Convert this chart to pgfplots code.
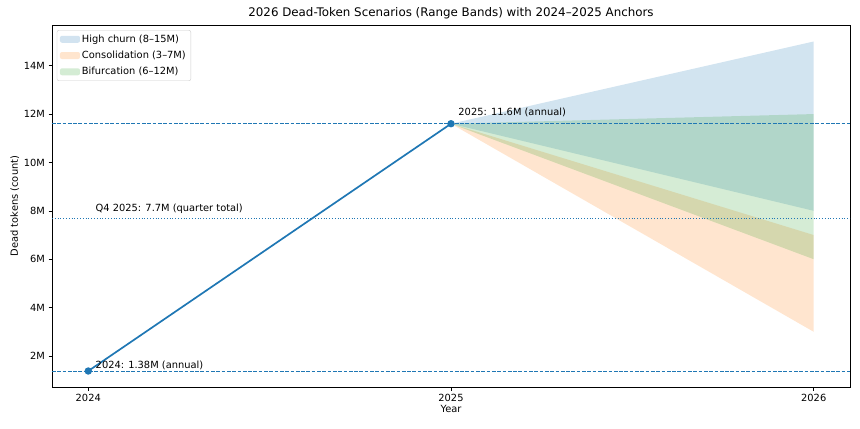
\documentclass[border=0pt]{standalone}
\usepackage{fontspec}
\setmainfont{DejaVu Sans}
\usepackage{pgfplots}
\pgfplotsset{compat=1.18}
\definecolor{tabblue}{HTML}{1F77B4}
\definecolor{taborange}{HTML}{FF7F0E}
\definecolor{tabgreen}{HTML}{2CA02C}
\begin{document}
\begin{tikzpicture}
\begin{axis}[
  scale only axis,
  width=798bp, height=362bp,
  xmin=2023.9, xmax=2026.1,
  ymin=0.719, ymax=15.681,
  xtick={2024,2025,2026},
  xticklabels={2024,2025,2026},
  ytick={2,4,6,8,10,12,14},
  yticklabels={2M,4M,6M,8M,10M,12M,14M},
  tick align=outside, tick pos=left,
  major tick length=3.5bp,
  tick style={black, line width=0.6bp},
  axis line style={black, line width=0.6bp},
  ticklabel style={font=\fontsize{9.9}{11}\selectfont},
  /pgf/number format/assume math mode=true,
  xlabel={Year}, ylabel={Dead tokens (count)},
  label style={font=\fontsize{9.9}{11}\selectfont},
  xlabel style={yshift=3bp},
  ylabel style={yshift=-2bp},
  title={2026 Dead-Token Scenarios (Range Bands) with 2024–2025 Anchors},
  title style={font=\fontsize{11.9}{13}\selectfont, yshift=-3bp},
  legend cell align=left,
  legend style={font=\fontsize{9.9}{11}\selectfont, draw=black!20, rounded corners=2bp, inner xsep=3bp, inner ysep=2.5bp, row sep=3.3bp, at={(0.006,0.986)}, anchor=north west},
  legend image code/.code={\fill[#1] (0bp,-3.5bp) rectangle (20bp,3.5bp);},
]
\addplot[fill=tabblue, fill opacity=0.2, draw=none] coordinates {(2025,11.6) (2026,15) (2026,8) (2025,11.6)} -- cycle;
\addlegendentry{High churn (8–15M)}
\addplot[fill=taborange, fill opacity=0.2, draw=none] coordinates {(2025,11.6) (2026,7) (2026,3) (2025,11.6)} -- cycle;
\addlegendentry{Consolidation (3–7M)}
\addplot[fill=tabgreen, fill opacity=0.2, draw=none] coordinates {(2025,11.6) (2026,12) (2026,6) (2025,11.6)} -- cycle;
\addlegendentry{Bifurcation (6–12M)}
\addplot[color=tabblue, line width=1.7bp, mark=*, mark size=2.8bp, mark options={solid, fill=tabblue, draw=tabblue}, forget plot] coordinates {(2024,1.38) (2025,11.6)};
\addplot[color=tabblue, line width=1bp, dash pattern=on 3.7bp off 1.6bp, forget plot] coordinates {(2023.9,11.6) (2026.1,11.6)};
\addplot[color=tabblue, line width=1bp, dash pattern=on 3.7bp off 1.6bp, forget plot] coordinates {(2023.9,1.38) (2026.1,1.38)};
\addplot[color=tabblue, line width=1.1bp, dash pattern=on 1.1bp off 1.7bp, forget plot] coordinates {(2023.9,7.7) (2026.1,7.7)};
\node[anchor=west, font=\fontsize{9.9}{11}\selectfont, inner sep=0pt] at (axis cs:2025.02,12.05) {2025: 11.6M (annual)};
\node[anchor=west, font=\fontsize{9.9}{11}\selectfont, inner sep=0pt] at (axis cs:2024.02,8.08) {Q4 2025: 7.7M (quarter total)};
\node[anchor=west, font=\fontsize{9.9}{11}\selectfont, inner sep=0pt] at (axis cs:2024.02,1.63) {2024: 1.38M (annual)};
\end{axis}
\pgfresetboundingbox
\path ([shift={(-52bp,-42bp)}]current axis.south west) rectangle ([shift={(10bp,25bp)}]current axis.north east);
\end{tikzpicture}
\end{document}
